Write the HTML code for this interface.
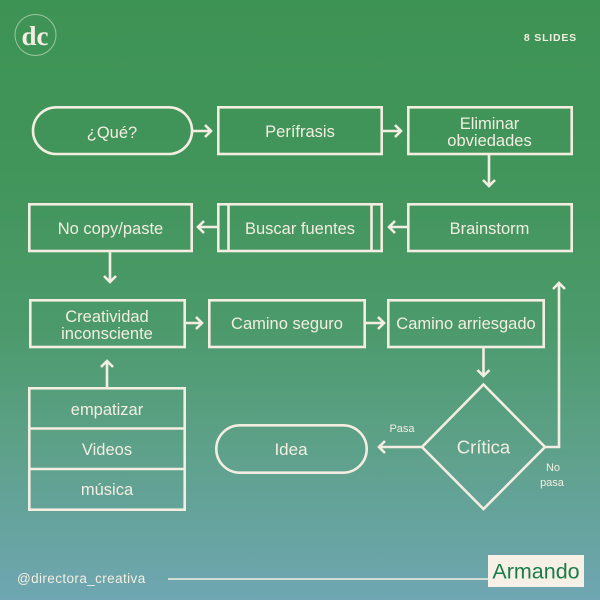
<!DOCTYPE html>
<html><head><meta charset="utf-8"><style>
html,body{margin:0;padding:0;}
body{width:600px;height:600px;overflow:hidden;background:linear-gradient(180deg,#3d9354 0%,#42955b 30%,#4c9a6c 55%,#5ea18a 75%,#6fa6b2 100%);font-family:"Liberation Sans",sans-serif;}
svg{display:block;}
</style></head><body>
<svg width="600" height="600" viewBox="0 0 600 600" xmlns="http://www.w3.org/2000/svg">
<!-- logo -->
<circle cx="35.5" cy="35" r="20.5" fill="none" stroke="#e9efe0" stroke-opacity="0.55" stroke-width="1"/>
<text x="35" y="45" text-anchor="middle" font-family="Liberation Serif, serif" font-weight="bold" font-size="27" fill="#f3eee1">dc</text>
<text x="577" y="41" text-anchor="end" font-family="Liberation Sans, sans-serif" font-weight="bold" font-size="10.5" letter-spacing="0.8" fill="#f3eee1">8 SLIDES</text>

<g fill="none" stroke="#f3eee1" stroke-width="2.6" stroke-linejoin="miter">
 <rect x="33" y="107.3" width="159" height="46.7" rx="23.3"/>
 <rect x="218.3" y="107.3" width="163.4" height="46.7"/>
 <rect x="408.3" y="107.3" width="163.4" height="46.7"/>
 <rect x="29.3" y="204.3" width="162.4" height="46.7"/>
 <rect x="218.3" y="204.3" width="163.4" height="46.7"/>
 <line x1="228.5" y1="204" x2="228.5" y2="251"/>
 <line x1="371.5" y1="204" x2="371.5" y2="251"/>
 <rect x="408.3" y="204.3" width="163.4" height="46.7"/>
 <rect x="30.3" y="300.3" width="154.4" height="46.7"/>
 <rect x="209.3" y="300.3" width="155.4" height="46.7"/>
 <rect x="388.3" y="300.3" width="155.4" height="46.7"/>
 <rect x="29.3" y="388.3" width="155.4" height="121.4"/>
 <line x1="29" y1="428.5" x2="185" y2="428.5"/>
 <line x1="29" y1="469" x2="185" y2="469"/>
 <rect x="216.3" y="425.3" width="150.4" height="47.4" rx="23.7"/>
 <polygon points="483.5,384.5 545,447 483.5,509 422,447"/>

 <!-- arrows -->
 <path d="M193,131 H211 M205,125 L211,131 L205,137"/>
 <path d="M383,131 H401 M395,125 L401,131 L395,137"/>
 <path d="M489,155 V186 M483,180 L489,186 L495,180"/>
 <path d="M407,227 H389 M395,221 L389,227 L395,233"/>
 <path d="M217,227 H198 M204,221 L198,227 L204,233"/>
 <path d="M110,252 V282 M104,276 L110,282 L116,276"/>
 <path d="M185,323 H202 M196,317 L202,323 L196,329"/>
 <path d="M366,323 H384 M378,317 L384,323 L378,329"/>
 <path d="M483.5,348 V376 M477.5,370 L483.5,376 L489.5,370"/>
 <path d="M422,447 H379 M385,441 L379,447 L385,453"/>
 <path d="M545,447 H559 V283 M553,289 L559,283 L565,289"/>
 <path d="M107,387 V361 M101,367 L107,361 L113,367"/>
</g>

<g fill="#f3eee1" font-family="Liberation Sans, sans-serif" font-size="16.5" text-anchor="middle">
 <text x="112" y="138">¿Qué?</text>
 <text x="300" y="137">Perífrasis</text>
 <text x="489.5" y="129">Eliminar</text>
 <text x="489.5" y="146">obviedades</text>
 <text x="110.5" y="234">No copy/paste</text>
 <text x="300" y="234">Buscar fuentes</text>
 <text x="489.5" y="234">Brainstorm</text>
 <text x="107" y="322">Creatividad</text>
 <text x="107" y="339">inconsciente</text>
 <text x="287" y="329">Camino seguro</text>
 <text x="466" y="329">Camino arriesgado</text>
 <text x="107" y="415">empatizar</text>
 <text x="107" y="455">Videos</text>
 <text x="107" y="495">música</text>
 <text x="291" y="455" font-size="17">Idea</text>
 <text x="483.5" y="453.5" font-size="18.5">Crítica</text>
 <text x="402" y="432" font-size="11">Pasa</text>
 <text x="553" y="471" font-size="11">No</text>
 <text x="552" y="486" font-size="11">pasa</text>
</g>

<!-- footer -->
<line x1="168" y1="579" x2="490" y2="579" stroke="#f3eee1" stroke-width="1.5"/>
<text x="17" y="583" font-family="Liberation Sans, sans-serif" font-size="13.5" letter-spacing="0.4" fill="#f3eee1">@directora_creativa</text>
<rect x="488" y="555" width="96" height="32" fill="#f6f0e7"/>
<text x="536" y="578.5" text-anchor="middle" font-family="Liberation Sans, sans-serif" font-size="21.5" fill="#1a7c47">Armando</text>
</svg>
</body></html>
